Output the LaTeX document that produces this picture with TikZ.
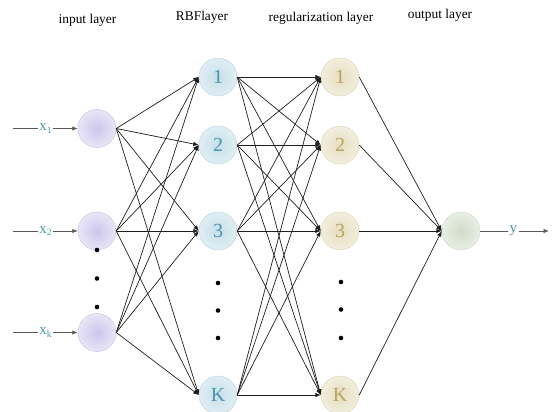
\documentclass[tikz,border=0pt]{standalone}
\usepackage{fontspec}
\setmainfont{Liberation Serif}
\usetikzlibrary{arrows.meta}
\definecolor{inC}{HTML}{CCC6EC}
\definecolor{inO}{HTML}{E8E6F6}
\definecolor{inB}{HTML}{CBC4E6}
\definecolor{rbC}{HTML}{C6DFE9}
\definecolor{rbO}{HTML}{E0EEF4}
\definecolor{rbB}{HTML}{B9D8E4}
\definecolor{rbT}{HTML}{4E93AE}
\definecolor{rgC}{HTML}{E6DEBE}
\definecolor{rgO}{HTML}{F2EEDF}
\definecolor{rgB}{HTML}{E0D7B4}
\definecolor{rgT}{HTML}{B8A462}
\definecolor{ouC}{HTML}{CFDCC8}
\definecolor{ouO}{HTML}{E8EEE4}
\definecolor{ouB}{HTML}{D2DDCB}
\definecolor{lblT}{HTML}{4E93AE}
\tikzset{
  neuron/.style={circle, minimum size=38pt, inner sep=0pt, line width=0.5pt,
    font=\fontsize{20}{22}\selectfont},
  innode/.style={neuron, draw=inB, inner color=inC, outer color=inO},
  rbnode/.style={neuron, draw=rbB, inner color=rbC, outer color=rbO, text=rbT},
  rgnode/.style={neuron, draw=rgB, inner color=rgC, outer color=rgO, text=rgT},
  ounode/.style={neuron, draw=ouB, inner color=ouC, outer color=ouO},
  conn/.style={line width=0.7pt, draw=black!88, -{Latex[length=5.5pt,width=4.5pt]}},
  feed/.style={line width=0.8pt, draw=black!65, -{Latex[length=5.5pt,width=4.5pt]}},
  lbl/.style={fill=white, inner sep=1.5pt, text=lblT, font=\fontsize{15}{17}\selectfont},
  head/.style={font=\fontsize{13.4}{16}\selectfont},
  dotmark/.style={circle, fill=black, minimum size=4.6pt, inner sep=0pt}
}
\begin{document}
\begin{tikzpicture}[x=1pt,y=-1pt]
\useasboundingbox (0,0) rectangle (552,412);
% headers
\node[head] (h1) at (87.5,20) {input layer};
\node[head] (h2) at (202,17.5) {RBFlayer};
\node[head] (h3) at (321,18) {regularization layer};
\node[head] (h4) at (440,15) {output layer};
% input layer
\node[innode] (i1) at (97,128.5) {};
\node[innode] (i2) at (97,231) {};
\node[innode] (i3) at (97,332.5) {};
% RBF layer
\node[rbnode] (r1) at (218,77) {1};
\node[rbnode] (r2) at (218,145) {2};
\node[rbnode] (r3) at (218,231) {3};
\node[rbnode] (r4) at (218,395) {K};
% regularization layer
\node[rgnode] (g1) at (340,77) {1};
\node[rgnode] (g2) at (340,145) {2};
\node[rgnode] (g3) at (340,231) {3};
\node[rgnode] (g4) at (340,395) {K};
% output
\node[ounode] (o) at (461,231) {};
% dots
\node[dotmark] (d1) at (97,250) {};
\node[dotmark] (d2) at (97,278.5) {};
\node[dotmark] (d3) at (97,307) {};
\node[dotmark] (d4) at (218,283) {};
\node[dotmark] (d5) at (218,310.5) {};
\node[dotmark] (d6) at (218,338) {};
\node[dotmark] (d7) at (341,282) {};
\node[dotmark] (d8) at (341,309.5) {};
\node[dotmark] (d9) at (341,338) {};
% input feeds
\coordinate (s1) at (13,128.5);
\coordinate (s2) at (13,231);
\coordinate (s3) at (13,332.5);
\coordinate (e) at (549,231);
\draw[feed] (s1) -- node[lbl] {x\raisebox{-2.5pt}{\fontsize{9.5}{10}\selectfont 1}} (i1.west);
\draw[feed] (s2) -- node[lbl] {x\raisebox{-2.5pt}{\fontsize{9.5}{10}\selectfont 2}} (i2.west);
\draw[feed] (s3) -- node[lbl] {x\raisebox{-2.5pt}{\fontsize{9.5}{10}\selectfont k}} (i3.west);
\draw[feed] (o.east) -- node[lbl, pos=0.48] {y} (e);
% connections
\foreach \a in {i1,i2,i3}{
  \foreach \b in {r1,r2,r3,r4}{
    \draw[conn] (\a.east) -- (\b.west);
  }
}
\foreach \a in {r1,r2,r3,r4}{
  \foreach \b in {g1,g2,g3,g4}{
    \draw[conn] (\a.east) -- (\b.west);
  }
}
\foreach \a in {g1,g2,g3,g4}{
  \draw[conn] (\a.east) -- (o.west);
}
\end{tikzpicture}
\end{document}
